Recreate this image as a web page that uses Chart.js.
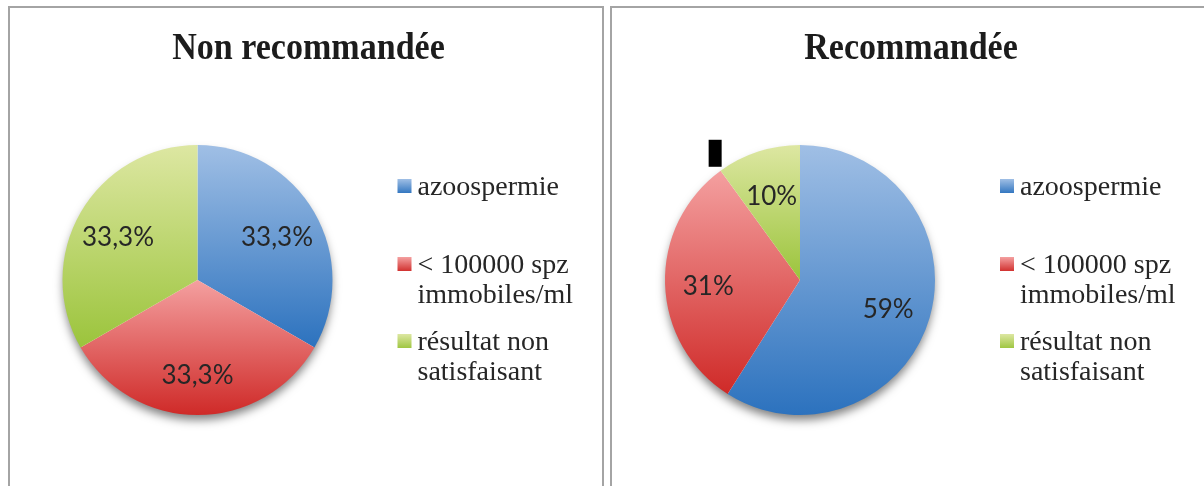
<!DOCTYPE html>
<html><head><meta charset="utf-8">
<script src="https://cdn.jsdelivr.net/npm/chart.js@4.4.0/dist/chart.umd.min.js"></script>
<style>
html,body{margin:0;padding:0;background:#fff;width:1204px;height:486px;overflow:hidden;}
.panel{position:absolute;border:2px solid #a4a4a4;box-sizing:border-box;}
#p1{left:8px;top:6px;width:596px;height:500px;}
#p2{left:610px;top:6px;width:600px;height:500px;}
.cw{position:absolute;top:0;height:486px;}
#c1w{left:0;width:606px;}
#c2w{left:606px;width:598px;}
</style></head><body>
<div class="panel" id="p1"></div><div class="panel" id="p2"></div>
<div class="cw" id="c1w"><canvas id="c1" width="606" height="486"></canvas></div>
<div class="cw" id="c2w"><canvas id="c2" width="598" height="486"></canvas></div>
<script>
const categories = ['azoospermie', '< 100000 spz immobiles/ml', 'résultat non satisfaisant'];
const titleLeft = 'Non recommandée';
const titleRight = 'Recommandée';
const valuesLeft = [33.3, 33.3, 33.3];
const valuesRight = [59, 31, 10];

const gradStops = [['#a0bfe5', '#2c72be'], ['#f4a0a0', '#cf2a28'], ['#dde7a2', '#9bc43c']];

function fmt(v) { return String(v).replace('.', ',') + '%'; }

function sliceRange(chart, idx, data) {
  const ca = chart.chartArea;
  const cx = (ca.left + ca.right) / 2, cy = (ca.top + ca.bottom) / 2;
  const r = Math.min(ca.right - ca.left, ca.bottom - ca.top) / 2;
  const total = data.reduce((a, b) => a + b, 0);
  let s = 0; for (let i = 0; i < idx; i++) s += data[i];
  const a0 = -Math.PI / 2 + 2 * Math.PI * s / total;
  const a1 = a0 + 2 * Math.PI * data[idx] / total;
  const ys = [cy, cy + r * Math.sin(a0), cy + r * Math.sin(a1)];
  for (const ang of [-Math.PI / 2, Math.PI / 2, 3 * Math.PI / 2]) {
    if (ang >= a0 - 1e-9 && ang <= a1 + 1e-9) ys.push(cy + r * Math.sin(ang));
  }
  return [Math.min(...ys), Math.max(...ys)];
}

function sliceFill(ctx) {
  const chart = ctx.chart; const i = ctx.dataIndex;
  if (i === undefined) return gradStops[0][1];
  if (!chart.chartArea) return gradStops[i][1];
  const [y0, y1] = sliceRange(chart, i, ctx.dataset.data);
  const g = chart.ctx.createLinearGradient(0, y0, 0, y1);
  g.addColorStop(0, gradStops[i][0]); g.addColorStop(1, gradStops[i][1]);
  return g;
}

function wrap(ctx, text, maxW) {
  const words = text.split(' '); const lines = []; let cur = '';
  for (const w of words) {
    const t = cur ? cur + ' ' + w : w;
    if (ctx.measureText(t).width > maxW && cur) { lines.push(cur); cur = w; } else cur = t;
  }
  if (cur) lines.push(cur);
  return lines;
}

const decor = {
  id: 'decor',
  beforeDatasetsDraw(chart) {
    const arc = chart.getDatasetMeta(0).data[0];
    const ctx = chart.ctx;
    ctx.save();
    ctx.shadowColor = 'rgba(0,0,0,0.5)'; ctx.shadowBlur = 10; ctx.shadowOffsetY = 6;
    ctx.fillStyle = '#fff';
    ctx.beginPath(); ctx.arc(arc.x, arc.y, arc.outerRadius - 1, 0, Math.PI * 2); ctx.fill();
    ctx.restore();
  },
  afterDatasetsDraw(chart, args, opts) {
    const ctx = chart.ctx; const meta = chart.getDatasetMeta(0); const ds = chart.data.datasets[0];
    const first = meta.data[0]; const cx = first.x, cy = first.y, r = first.outerRadius;
    ctx.save();
    // data labels
    ctx.font = '26px Lato'; ctx.fillStyle = '#262626'; ctx.textAlign = 'center'; ctx.textBaseline = 'middle';
    meta.data.forEach((arc, i) => {
      const m = (arc.startAngle + arc.endAngle) / 2;
      ctx.fillText(fmt(ds.data[i]), cx + Math.cos(m) * r * 0.68, cy + Math.sin(m) * r * 0.68 + 4);
    });
    // title
    ctx.save();
    ctx.font = 'bold 37px "Liberation Serif"'; ctx.fillStyle = '#1c1c1c'; ctx.textBaseline = 'alphabetic';
    ctx.translate(cx + 111, 59); ctx.scale(0.92, 1);
    ctx.fillText(opts.title, 0, 0);
    ctx.restore();
    // legend
    ctx.textAlign = 'left'; ctx.textBaseline = 'alphabetic';
    ctx.font = '28px "Liberation Serif"';
    const baseOffsets = [-85, -7, 70];
    chart.data.labels.forEach((lab, i) => {
      const by = cy + baseOffsets[i];
      const mx = cx + 200;
      const g = ctx.createLinearGradient(0, by - 16, 0, by - 1);
      g.addColorStop(0, gradStops[i][0]); g.addColorStop(1, gradStops[i][1]);
      ctx.fillStyle = g; ctx.fillRect(mx, by - 16, 14, 14);
      ctx.fillStyle = '#262626';
      wrap(ctx, lab, 176).forEach((ln, k) => ctx.fillText(ln, mx + 20, by + k * 30));
    });
    if (opts.tag) {
      const a = meta.data[2];
      const px = cx + Math.cos(a.startAngle) * r, py = cy + Math.sin(a.startAngle) * r;
      ctx.fillStyle = '#000'; ctx.fillRect(px - 12, py - 31, 13, 27);
    }
    ctx.restore();
  }
};

function makeChart(id, title, values, pad, tag) {
  return new Chart(document.getElementById(id), {
    type: 'pie',
    data: { labels: categories, datasets: [{ data: values, backgroundColor: sliceFill, borderWidth: 0 }] },
    options: {
      responsive: false, animation: false, events: [],
      layout: { padding: pad },
      plugins: { legend: { display: false }, tooltip: { enabled: false }, decor: { title: title, tag: tag } }
    },
    plugins: [decor]
  });
}
makeChart('c1', titleLeft, valuesLeft, { left: 62, right: 273, top: 145, bottom: 71 }, false);
makeChart('c2', titleRight, valuesRight, { left: 59, right: 269, top: 145, bottom: 71 }, true);
</script>
</body></html>
